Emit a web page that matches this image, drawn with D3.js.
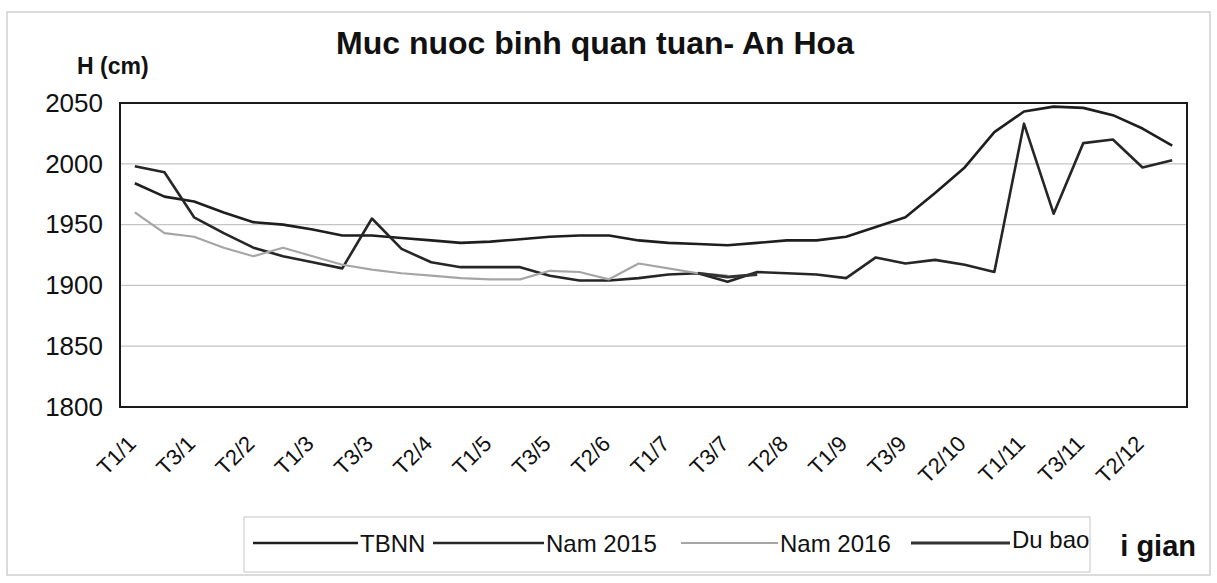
<!DOCTYPE html>
<html>
<head>
<meta charset="utf-8">
<script src="https://cdn.jsdelivr.net/npm/d3@7"></script>
<style>
  body { margin: 0; background: #fff; }
  svg text { font-family: "Liberation Sans", Arial, sans-serif; fill: #111; }
</style>
</head>
<body>
<div id="chart"></div>
<script>
// 36 ten-day periods (T1..T3 of each month)
const categories = [];
for (let m = 1; m <= 12; m++) for (let t = 1; t <= 3; t++) categories.push(`T${t}/${m}`);

const tickLabels = ['T1/1','T3/1','T2/2','T1/3','T3/3','T2/4','T1/5','T3/5','T2/6',
                    'T1/7','T3/7','T2/8','T1/9','T3/9','T2/10','T1/11','T3/11','T2/12'];
const yTicks = [1800, 1850, 1900, 1950, 2000, 2050];

const tbnn = [1984, 1973, 1969, 1960, 1952, 1950, 1946, 1941, 1941, 1939,
              1937, 1935, 1936, 1938, 1940, 1941, 1941, 1937, 1935, 1934,
              1933, 1935, 1937, 1937, 1940, 1948, 1956, 1976, 1997, 2026,
              2043, 2047, 2046, 2040, 2029, 2015];
const nam2015 = [1998, 1993, 1956, 1943, 1931, 1924, 1919, 1914, 1955, 1930,
                 1919, 1915, 1915, 1915, 1908, 1904, 1904, 1906, 1909, 1910,
                 1903, 1911, 1910, 1909, 1906, 1923, 1918, 1921, 1917, 1911,
                 2033, 1959, 2017, 2020, 1997, 2003];
const nam2016 = [1960, 1943, 1940, 1931, 1924, 1931, 1924, 1917, 1913, 1910,
                 1908, 1906, 1905, 1905, 1912, 1911, 1905, 1918, 1914, 1910,
                 1908];
const duBao = [null, null, null, null, null, null, null, null, null, null,
               null, null, null, null, null, null, null, null, null, 1910,
               1907, 1909];

const W = 1217, H = 583;
const plot = { left: 120, right: 1187, top: 103, bottom: 407 };

const svg = d3.select('#chart').append('svg')
    .attr('width', W).attr('height', H);

// scanned page frame
svg.append('rect')
    .attr('x', 7).attr('y', 12).attr('width', 1203).attr('height', 563)
    .attr('fill', '#fff').attr('stroke', '#cfcfcf').attr('stroke-width', 1.5);

const x = d3.scalePoint().domain(categories).range([plot.left, plot.right]).padding(0.5);
const y = d3.scaleLinear().domain([1800, 2050]).range([plot.bottom, plot.top]);

// gridlines
svg.append('g').selectAll('line')
    .data(yTicks.slice(1, -1))
    .enter().append('line')
    .attr('x1', plot.left).attr('x2', plot.right)
    .attr('y1', d => y(d)).attr('y2', d => y(d))
    .attr('stroke', '#c4c4c4').attr('stroke-width', 1.2);

// plot frame
svg.append('rect')
    .attr('x', plot.left).attr('y', plot.top)
    .attr('width', plot.right - plot.left).attr('height', plot.bottom - plot.top)
    .attr('fill', 'none').attr('stroke', '#1a1a1a').attr('stroke-width', 2);

const yAxis = svg.append('g')
    .attr('transform', `translate(${plot.left},0)`)
    .call(d3.axisLeft(y).tickValues(yTicks).tickFormat(d3.format('d')).tickSize(0).tickPadding(17));
yAxis.select('.domain').remove();
yAxis.selectAll('text').style('font-size', '26px');

const xAxis = svg.append('g')
    .attr('transform', `translate(0,${plot.bottom})`)
    .call(d3.axisBottom(x).tickValues(tickLabels).tickSize(0).tickPadding(0));
xAxis.select('.domain').remove();
xAxis.selectAll('text')
    .style('font-size', '22px')
    .attr('text-anchor', 'end')
    .attr('dy', 0)
    .attr('transform', 'translate(2,38) rotate(-45)');

const line = d3.line()
    .defined(d => d != null)
    .x((d, i) => x(categories[i]))
    .y(d => y(d));

const series = [
  { name: 'TBNN', values: tbnn, color: '#1e1e1e', width: 2.6 },
  { name: 'Nam 2015', values: nam2015, color: '#262626', width: 2.6 },
  { name: 'Nam 2016', values: nam2016, color: '#a5a5a5', width: 2.2 },
  { name: 'Du bao', values: duBao, color: '#333', width: 3 }
];

series.forEach(s => {
  svg.append('path')
      .datum(s.values)
      .attr('fill', 'none')
      .attr('stroke', s.color)
      .attr('stroke-width', s.width)
      .attr('stroke-linejoin', 'round')
      .attr('d', line);
});

// title and axis title
svg.append('text')
    .attr('x', 595).attr('y', 54)
    .attr('text-anchor', 'middle')
    .style('font-size', '32px').style('font-weight', 'bold')
    .text('Muc nuoc binh quan tuan- An Hoa');

svg.append('text')
    .attr('x', 77).attr('y', 74)
    .style('font-size', '23px').style('font-weight', 'bold')
    .text('H (cm)');

// legend
const legend = svg.append('g');
legend.append('rect')
    .attr('x', 244).attr('y', 517).attr('width', 846).attr('height', 55)
    .attr('fill', '#fff').attr('stroke', '#cfcfcf').attr('stroke-width', 1.2);

const legendItems = [
  { s: series[0], x1: 253, x2: 358, ty: 552 },
  { s: series[1], x1: 433, x2: 544, ty: 552 },
  { s: series[2], x1: 681, x2: 778, ty: 552 },
  { s: series[3], x1: 911, x2: 1010, ty: 548 }
];
legendItems.forEach(d => {
  legend.append('line')
      .attr('x1', d.x1).attr('x2', d.x2).attr('y1', 543).attr('y2', 543)
      .attr('stroke', d.s.color).attr('stroke-width', d.s.width);
  legend.append('text')
      .attr('x', d.x2 + 2).attr('y', d.ty)
      .style('font-size', '24px')
      .text(d.s.name);
});

// visible tail of the x axis title (rest is covered by the legend)
svg.append('text')
    .attr('x', 1196).attr('y', 556)
    .attr('text-anchor', 'end')
    .style('font-size', '29px').style('font-weight', 'bold')
    .text('i gian');
</script>
</body>
</html>
